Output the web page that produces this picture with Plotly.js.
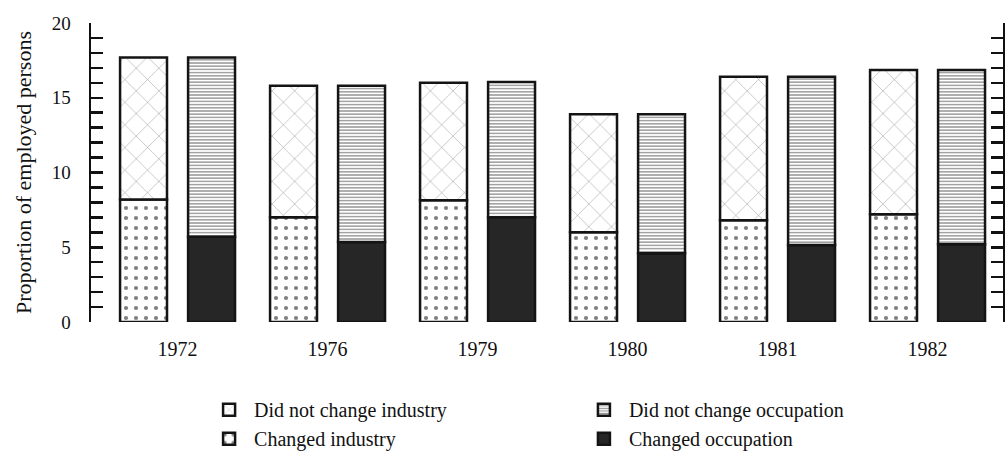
<!DOCTYPE html>
<html>
<head>
<meta charset="utf-8">
<script src="https://cdn.plot.ly/plotly-3.0.1.min.js"></script>
<style>html,body{margin:0;padding:0;background:#fff;}#chart{width:1005px;height:456px;}</style>
</head>
<body>
<div id="chart"></div>
<script>
// ---- data ----
const years = ['1972', '1976', '1979', '1980', '1981', '1982'];
const changedIndustry      = [8.2, 7.0, 8.15, 6.0, 6.8, 7.2];
const didNotChangeIndustry = [9.5, 8.8, 7.85, 7.9, 9.6, 9.65];
const changedOccupation      = [5.7, 5.35, 7.0, 4.6, 5.15, 5.2];
const didNotChangeOccupation = [12.0, 10.45, 9.05, 9.3, 11.25, 11.65];

const outline = {color: '#141414', width: 2.5};
const serif = 'Liberation Serif, Times New Roman, serif';

const traces = [
  {
    type: 'bar', name: 'Changed industry', x: years, y: changedIndustry,
    offsetgroup: 'ind', legend: 'legend', legendrank: 2,
    marker: {color: '#ffffff', line: outline,
      pattern: {shape: '.', size: 10, solidity: 0.14, fgcolor: '#000', bgcolor: '#fff', fillmode: 'overlay'}}
  },
  {
    type: 'bar', name: 'Did not change industry', x: years, y: didNotChangeIndustry,
    base: changedIndustry,
    offsetgroup: 'ind', legend: 'legend', legendrank: 1,
    marker: {color: '#ffffff', line: outline,
      pattern: {shape: 'x', size: 16, solidity: 0.06, fgcolor: '#222', bgcolor: '#fff', fillmode: 'overlay'}}
  },
  {
    type: 'bar', name: 'Changed occupation', x: years, y: changedOccupation,
    offsetgroup: 'occ', legend: 'legend2', legendrank: 2,
    marker: {color: '#262626', line: outline}
  },
  {
    type: 'bar', name: 'Did not change occupation', x: years, y: didNotChangeOccupation,
    base: changedOccupation,
    offsetgroup: 'occ', legend: 'legend2', legendrank: 1,
    marker: {color: '#ffffff', line: outline,
      pattern: {shape: '-', size: 3.2, solidity: 0.45, fgcolor: '#333', bgcolor: '#fff', fillmode: 'overlay'}}
  }
];

const legendCommon = {
  orientation: 'v', xanchor: 'left', yanchor: 'top', yref: 'paper', xref: 'paper',
  font: {family: serif, size: 20, color: '#111'}, bgcolor: 'rgba(0,0,0,0)',
  tracegroupgap: 0, itemwidth: 40, traceorder: 'normal'
};

const layout = {
  width: 1005, height: 456,
  margin: {l: 91, r: 2, t: 23, b: 134, autoexpand: false},
  paper_bgcolor: '#ffffff', plot_bgcolor: '#ffffff',
  barmode: 'group', bargap: 0.093, bargroupgap: 0.31,
  showlegend: true,
  font: {family: serif, size: 20, color: '#111'},
  xaxis: {
    type: 'category', range: [-0.577, 5.503], automargin: false,
    showline: false, showgrid: false, zeroline: false, ticks: '',
    ticklabelstandoff: 13,
    tickfont: {family: serif, size: 20, color: '#111'}
  },
  yaxis: {
    range: [0, 20], dtick: 5, tick0: 0, automargin: false,
    showgrid: false, zeroline: false,
    showline: true, linecolor: '#111', linewidth: 2.5, mirror: 'ticks',
    ticks: 'inside', ticklen: 12, tickwidth: 2.5, tickcolor: '#111',
    minor: {dtick: 1, ticks: 'inside', ticklen: 12, tickwidth: 2.5, tickcolor: '#111', showgrid: false},
    ticklabelstandoff: 14,
    tickfont: {family: serif, size: 19, color: '#111'},
    title: {text: 'Proportion of employed persons', font: {family: serif, size: 22, color: '#111'}, standoff: 14}
  },
  legend: Object.assign({}, legendCommon, {x: 0.124, y: -0.228}),
  legend2: Object.assign({}, legendCommon, {x: 0.535, y: -0.228})
};

Plotly.newPlot('chart', traces, layout, {staticPlot: true, displayModeBar: false});
</script>
</body>
</html>
